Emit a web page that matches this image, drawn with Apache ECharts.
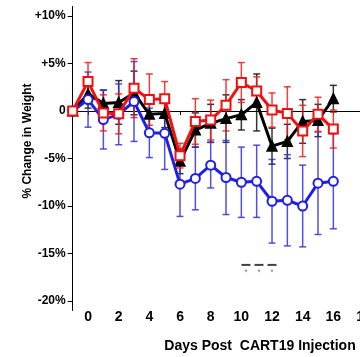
<!DOCTYPE html>
<html>
<head>
<meta charset="utf-8">
<script src="https://cdn.jsdelivr.net/npm/echarts@6/dist/echarts.min.js"></script>
<style>
  html, body { margin: 0; padding: 0; background: #fff; }
  #main { width: 360px; height: 357px; }
</style>
</head>
<body>
<div id="main"></div>
<script>
// days after injection (data index), labels are drawn one step to the right as in the original figure
const days = [0, 1, 2, 3, 4, 5, 6, 7, 8, 9, 10, 11, 12, 13, 14, 15, 16, 17];
const dayLabels = ['0', '2', '4', '6', '8', '10', '12', '14', '16', '18'];
const yTicks = [-20, -15, -10, -5, 0, 5, 10];

const red = [0, 3.1, -0.2, -0.3, 2.4, 1.2, 1.3, -4.7, -1.1, -0.95, 0.6, 3.0, 2.1, 0.1, -0.25, -2.1, -0.35, -1.9];
const redErr = [0, 2.0, 1.9, 2.1, 3.1, 2.7, 1.8, 1.3, 2.4, 2.1, 2.7, 2.1, 1.5, 1.8, 2.8, 2.7, 1.8, 2.0];

const black = [0, 1.8, 0.8, 0.9, 1.9, -0.35, -0.25, -5.3, -2.0, -1.3, -0.8, -0.4, 0.9, -3.7, -3.2, -1.1, -1.0, 1.3];
const blackErr = [0, 1.5, 1.4, 2.3, 2.3, 1.6, 1.5, 1.3, 1.8, 2.0, 2.5, 1.6, 3.0, 1.9, 1.8, 2.3, 1.7, 1.4];

const blue = [0, 1.2, -0.9, -0.35, 1.0, -2.3, -2.35, -7.7, -7.1, -5.7, -7.0, -7.5, -7.4, -9.5, -9.4, -10.0, -7.6, -7.4];
const blueErr = [0, 2.9, 3.1, 3.2, 4.2, 2.6, 3.8, 3.4, 3.3, 2.4, 3.9, 3.7, 3.8, 4.4, 4.8, 4.3, 5.4, 5.0];

// significance marks under days 11-13
const sigDays = [11.3, 12.15, 13.0];
const sigLevel = -16.2;

const chart = echarts.init(document.getElementById('main'));

const narrow = '"Liberation Sans Narrow", "Arial Narrow", "Liberation Sans", Arial, sans-serif';
const arial = '"Liberation Sans", Arial, sans-serif';
const labelPos = dayLabels.map((d, i) => 2 * i + 1);

function pts(vals) {
  return vals.map((v, i) => [days[i], v]);
}
function bars(vals, errs) {
  return vals.map((v, i) => [days[i], v - errs[i], v + errs[i]]);
}
function errRender(color) {
  return function (params, api) {
    const x = api.value(0);
    const top = api.coord([x, api.value(2)]);
    const bot = api.coord([x, api.value(1)]);
    const w = 3.5;
    const st = { stroke: color, lineWidth: 1.5 };
    return {
      type: 'group',
      children: [
        { type: 'line', shape: { x1: top[0], y1: top[1], x2: bot[0], y2: bot[1] }, style: st },
        { type: 'line', shape: { x1: top[0] - w, y1: top[1], x2: top[0] + w, y2: top[1] }, style: st },
        { type: 'line', shape: { x1: bot[0] - w, y1: bot[1], x2: bot[0] + w, y2: bot[1] }, style: st }
      ]
    };
  };
}
function errSeries(vals, errs, color, z) {
  return {
    type: 'custom',
    renderItem: errRender(color),
    data: bars(vals, errs),
    encode: { x: 0, y: [1, 2] },
    silent: true,
    z: z
  };
}
function lineSeries(vals, color, symbol, fill, z) {
  return {
    type: 'line',
    data: pts(vals),
    symbol: symbol,
    symbolSize: 9,
    lineStyle: { color: color, width: 3 },
    itemStyle: { color: fill, borderColor: color, borderWidth: 2 },
    z: z
  };
}

chart.setOption({
  animation: false,
  grid: { left: 72.7, top: 6.5, width: 291.3, height: 304, outerBoundsMode: 'none' },
  xAxis: [{
    type: 'value',
    min: 0,
    max: 19,
    position: 'bottom',
    splitLine: { show: false },
    axisLine: { show: false, onZero: false },
    axisTick: { show: false },
    axisLabel: {
      customValues: labelPos,
      formatter: v => dayLabels[(v - 1) / 2],
      margin: 0,
      color: '#000',
      fontFamily: narrow,
      fontWeight: 'bold',
      fontSize: 14
    }
  }, {
    type: 'value',
    min: 0,
    max: 19,
    position: 'bottom',
    splitLine: { show: false },
    axisLine: { show: true, onZero: true, lineStyle: { color: '#000', width: 1 } },
    axisTick: { show: true, customValues: labelPos, length: 4, lineStyle: { color: '#000' } },
    axisLabel: { show: false }
  }],
  yAxis: {
    type: 'value',
    min: -21,
    max: 11,
    splitLine: { show: false },
    axisLine: { show: true, lineStyle: { color: '#000', width: 1 } },
    axisTick: { show: true, customValues: yTicks, length: 5, lineStyle: { color: '#000' } },
    axisLabel: {
      customValues: yTicks,
      formatter: v => v > 0 ? '+' + v + '%' : (v === 0 ? '0' : v + '%'),
      margin: 7,
      color: '#000',
      fontFamily: arial,
      fontWeight: 'bold',
      fontSize: 12
    }
  },
  graphic: [{
    type: 'text',
    x: 28,
    y: 141,
    rotation: Math.PI / 2,
    style: {
      text: '% Change in Weight',
      font: 'bold 12px ' + narrow,
      fill: '#000',
      textAlign: 'center',
      textVerticalAlign: 'middle'
    }
  }, {
    type: 'text',
    x: 260,
    y: 346,
    style: {
      text: 'Days Post  CART19 Injection',
      font: 'bold 14px ' + narrow,
      fill: '#000',
      textAlign: 'center',
      textVerticalAlign: 'middle'
    }
  }],
  series: [
    errSeries(black, blackErr, 'rgba(20,20,20,0.85)', 2),
    errSeries(blue, blueErr, 'rgba(50,50,215,0.85)', 2),
    errSeries(red, redErr, 'rgba(235,30,30,0.85)', 2),
    lineSeries(black, '#000', 'triangle', '#000', 3),
    lineSeries(blue, '#1f1fe6', 'circle', '#fff', 4),
    lineSeries(red, '#f01010', 'rect', '#fff', 5),
    {
      type: 'scatter',
      data: sigDays.map(d => [d, sigLevel]),
      symbol: 'rect',
      symbolSize: [9, 2],
      itemStyle: { color: '#111' },
      label: {
        show: true,
        position: 'bottom',
        distance: 2,
        formatter: '*',
        fontSize: 9,
        color: '#666'
      },
      silent: true,
      z: 6
    }
  ]
});
</script>
</body>
</html>
